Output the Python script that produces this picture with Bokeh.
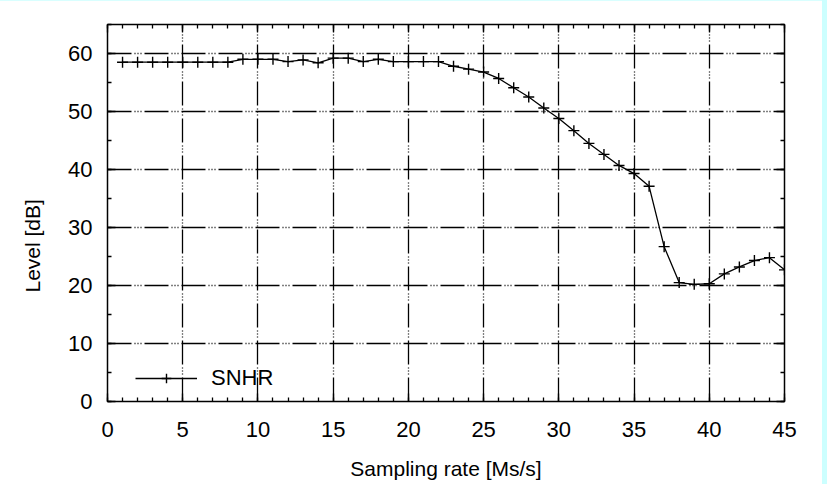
import math
from bokeh.plotting import figure
from bokeh.models import (Range1d, LinearAxis, SingleIntervalTicker, Legend, LegendItem,
                          Title, CustomJSTickFormatter)
from bokeh.embed import file_html
from bokeh.resources import INLINE

# ---- data ----
rate = list(range(1, 46))
snhr = [58.5, 58.5, 58.5, 58.5, 58.5, 58.5, 58.5, 58.5,
        59.0, 59.0, 59.0, 58.6, 58.9, 58.4, 59.2, 59.2, 58.6, 59.0, 58.6, 58.6,
        58.6, 58.6, 57.8, 57.3, 56.8, 55.7, 54.1, 52.5, 50.6, 48.8,
        46.7, 44.5, 42.6, 40.7, 39.3, 37.1, 26.7, 20.5, 20.2, 20.3,
        22.0, 23.2, 24.3, 24.8, 22.7]
series_name = "SNHR"
x_title = "Sampling rate [Ms/s]"
y_title = "Level [dB]"

FONT = "Liberation Sans"

p = figure(width=829, height=484, x_range=Range1d(0, 45), y_range=Range1d(0, 65),
           output_backend="svg", toolbar_location=None,
           min_border_left=114, min_border_right=38, min_border_top=24, min_border_bottom=83)
p.background_fill_color = "white"
p.border_fill_color = "white"
p.outline_line_color = "black"
p.outline_line_width = 1.5

xt = SingleIntervalTicker(interval=5, num_minor_ticks=5)
yt = SingleIntervalTicker(interval=10, num_minor_ticks=2)

def style_axis(ax, ticker, show_labels):
    ax.ticker = ticker
    ax.axis_line_color = None
    ax.major_tick_in = 8
    ax.major_tick_out = 0
    ax.minor_tick_in = 4
    ax.minor_tick_out = 0
    ax.major_tick_line_color = "black"
    ax.minor_tick_line_color = "black"
    ax.major_tick_line_width = 1.3
    ax.minor_tick_line_width = 1.3
    ax.major_label_text_font = FONT
    ax.major_label_text_color = "black"
    if show_labels:
        ax.major_label_text_font_size = "22px"
    else:
        ax.formatter = CustomJSTickFormatter(code="return ''")
        ax.major_label_text_font_size = "1px"
        ax.major_label_standoff = 0

xa = p.xaxis[0]
ya = p.yaxis[0]
style_axis(xa, xt, True)
style_axis(ya, yt, True)
xa.major_label_standoff = 20
ya.major_label_standoff = 15
xa.axis_label = x_title
xa.axis_label_text_font = FONT
xa.axis_label_text_font_size = "21px"
xa.axis_label_text_font_style = "normal"
xa.axis_label_text_color = "black"
xa.axis_label_standoff = 17

top = LinearAxis()
style_axis(top, SingleIntervalTicker(interval=5, num_minor_ticks=5), False)
p.add_layout(top, "above")
right = LinearAxis()
style_axis(right, SingleIntervalTicker(interval=10, num_minor_ticks=2), False)
p.add_layout(right, "right")

for g in (p.xgrid[0], p.ygrid[0]):
    g.grid_line_color = "black"
    g.grid_line_width = 1.3
    g.grid_line_dash = "24 3 1 2 1 2 1 3"
p.xgrid[0].ticker = xt
p.ygrid[0].ticker = yt

ln = p.line(rate, snhr, line_color="black", line_width=1.3)
mk = p.scatter(rate, snhr, marker="cross", size=11, line_color="black", line_width=1.4)

legend = Legend(items=[LegendItem(label=series_name, renderers=[ln, mk])],
                location=(28, 10))
legend.background_fill_alpha = 0
legend.border_line_color = None
legend.padding = 0
legend.margin = 0
legend.glyph_width = 62
legend.glyph_height = 24
legend.label_height = 24
legend.label_standoff = 14
legend.label_text_font = FONT
legend.label_text_font_size = "22px"
legend.label_text_color = "black"
p.add_layout(legend, "center")

ytitle = Title(text=y_title, align="left", offset=109, standoff=44,
               text_font=FONT, text_font_size="21px", text_font_style="normal",
               text_color="black")
p.add_layout(ytitle, "left")

html = file_html(p, INLINE)
html = html.replace("</head>",
                    "<style>html, body { background-color: #ccffff !important; } "
                    "body { margin-left: -7px !important; }</style></head>", 1)
open("out.html", "w").write(html)
